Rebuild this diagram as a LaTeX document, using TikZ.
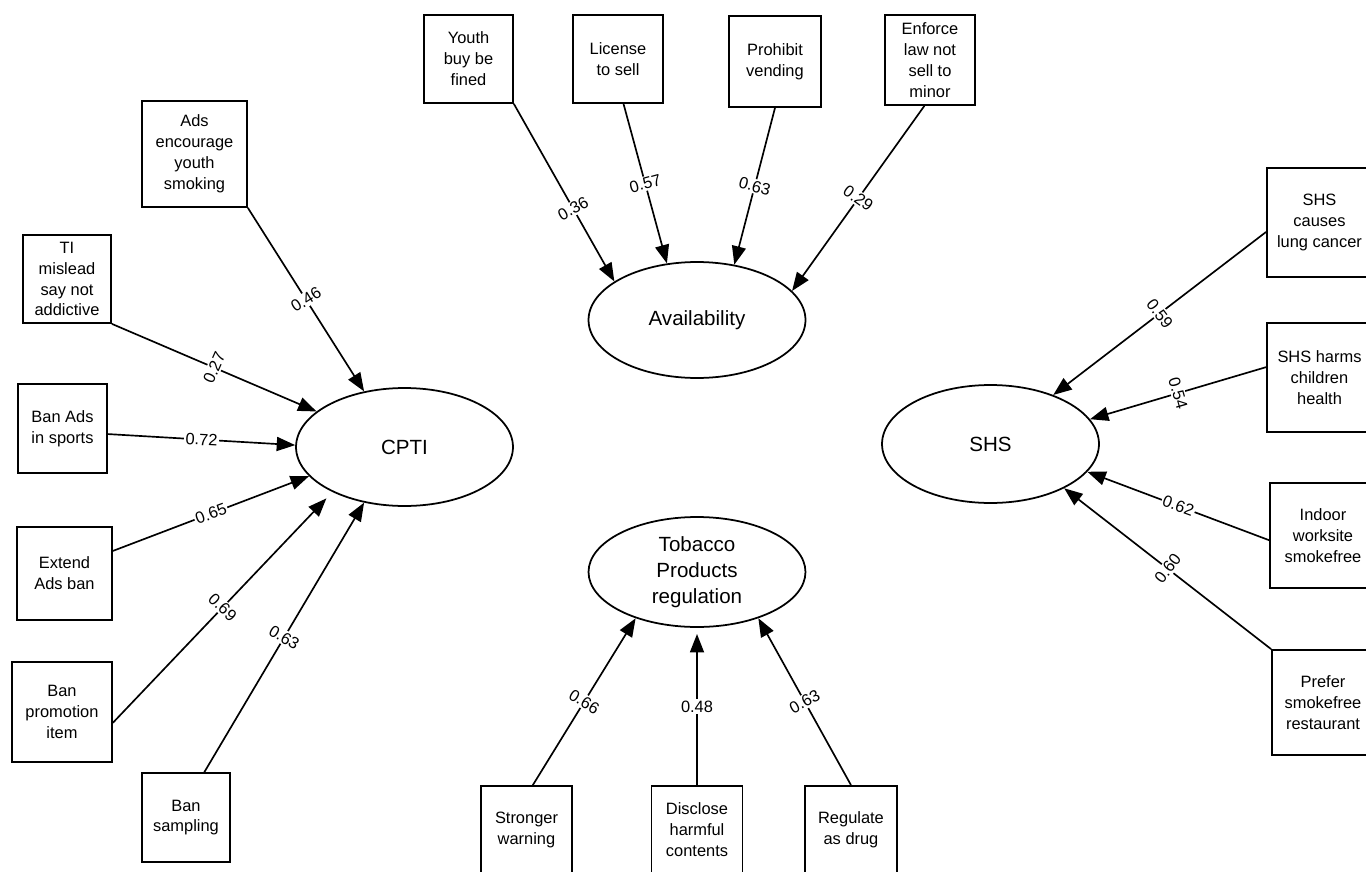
\documentclass[tikz,border=0pt]{standalone}
\usepackage{fontspec}
\setmainfont{Liberation Sans}
\usetikzlibrary{arrows.meta,shapes.geometric}
\begin{document}
\begin{tikzpicture}[x=0.02cm,y=-0.02cm,
  ind/.style={draw,line width=1pt,rectangle,inner sep=1pt,align=center,font=\fontsize{9.35}{11.9}\selectfont},
  lat/.style={draw,line width=1pt,ellipse,inner sep=0pt,minimum width=4.34cm,align=center,font=\fontsize{11.7}{14.7}\selectfont},
  load/.style={line width=0.95pt,-{Triangle[length=10.5pt,width=8pt]}},
  lbl/.style={fill=white,inner sep=0.8pt,font=\fontsize{9.35}{11}\selectfont}
]
\useasboundingbox (0,0) rectangle (1366,872);

% latent variables
\node[lat,minimum height=2.36cm] (cpti) at (404.5,447) {CPTI};
\node[lat,minimum height=2.32cm] (avail) at (697,320) {Availability};
\node[lat,minimum height=2.20cm] (tpr) at (697,572) {Tobacco\\Products\\regulation};
\node[lat,minimum height=2.36cm] (shs) at (990.5,444) {SHS};

% CPTI indicators
\node[ind,minimum width=2.10cm,minimum height=2.12cm] (ads) at (194.5,154) {Ads\\encourage\\youth\\smoking};
\node[ind,minimum width=1.76cm,minimum height=1.76cm] (ti) at (67,279) {TI\\mislead\\say not\\addictive};
\node[ind,minimum width=1.78cm,minimum height=1.78cm] (banads) at (62.5,428.5) {Ban Ads\\in sports};
\node[ind,minimum width=1.90cm,minimum height=1.86cm] (extend) at (64.5,573.5) {Extend\\Ads ban};
\node[ind,minimum width=2.00cm,minimum height=2.00cm] (promo) at (62,712) {Ban\\promotion\\item};
\node[ind,minimum width=1.76cm,minimum height=1.78cm] (sampling) at (186,817.5) {Ban\\sampling};

% Availability indicators
\node[ind,minimum width=1.78cm,minimum height=1.76cm] (youth) at (468.5,59) {Youth\\buy be\\fined};
\node[ind,minimum width=1.80cm,minimum height=1.76cm] (license) at (618,59) {License\\to sell};
\node[ind,minimum width=1.84cm,minimum height=1.82cm] (prohibit) at (775,61.5) {Prohibit\\vending};
\node[ind,minimum width=1.80cm,minimum height=1.80cm] (enforce) at (930,60) {Enforce\\law not\\sell to\\minor};

% Tobacco products regulation indicators
\node[ind,minimum width=1.82cm,minimum height=1.76cm] (stronger) at (526.5,830) {Stronger\\warning};
\node[ind,minimum width=1.82cm,minimum height=1.76cm] (disclose) at (697,830) {Disclose\\harmful\\contents};
\node[ind,minimum width=1.84cm,minimum height=1.76cm] (regulate) at (851,830) {Regulate\\as drug};

% SHS indicators
\node[ind,minimum width=2.10cm,minimum height=2.18cm] (shsa) at (1319.5,222.5) {SHS\\causes\\lung cancer};
\node[ind,minimum width=2.10cm,minimum height=2.18cm] (shsb) at (1319.5,377.5) {SHS harms\\children\\health};
\node[ind,minimum width=2.12cm,minimum height=2.10cm] (indoor) at (1323,535.5) {Indoor\\worksite\\smokefree};
\node[ind,minimum width=2.04cm,minimum height=2.10cm] (prefer) at (1323,702.5) {Prefer\\smokefree\\restaurant};

% CPTI loadings
\draw[load] (ads.south east) -- node[lbl,rotate=32]{0.46} (cpti.126);
\draw[load] (ti.south east) -- node[lbl,rotate=66]{0.27} (cpti.158.6);
\draw[load] (banads.-7) -- node[lbl,rotate=-3]{0.72} (cpti.179);
\draw[load] (extend.25.3) -- node[lbl,rotate=20.7]{0.65} (cpti.197.3);
\draw[load,shorten >=5pt] (promo.-12.4) -- node[lbl,rotate=-43.6]{0.69} (cpti.212.8);
\draw[load] (sampling.68) -- node[lbl,rotate=-30.7]{0.63} (cpti.234.1);

% Availability loadings
\draw[load] (youth.south east) -- node[lbl,pos=0.59,rotate=29.2]{0.36} (avail.155.7);
\draw[load] (license.-83.7) -- node[lbl,rotate=15.4]{0.57} (avail.118.7);
\draw[load] (prohibit.south) -- node[lbl,rotate=-15]{0.63} (avail.56.8);
\draw[load] (enforce.-97.4) -- node[lbl,rotate=-35.6]{0.29} (avail.17.9);

% Tobacco products regulation loadings
\draw[load] (stronger.82.9) -- node[lbl,rotate=-31.5]{0.66} (tpr.217.6);
\draw[load,shorten >=3.5pt] (disclose.north) -- node[lbl]{0.48} (tpr.south);
\draw[load] (regulate.north) -- node[lbl,rotate=28.9]{0.63} (tpr.-37.6);

% SHS loadings
\draw[load] (shsa.190.5) -- node[lbl,rotate=-52.7]{0.59} (shs.38.1);
\draw[load] (shsb.169.5) -- node[lbl,rotate=-73.9]{0.54} (shs.14.1);
\draw[load] (indoor.185) -- node[lbl,rotate=-20]{0.62} (shs.-16.7);
\draw[load] (prefer.north west) -- node[lbl,rotate=52.1]{0.60} (shs.-31.3);
\end{tikzpicture}
\end{document}
